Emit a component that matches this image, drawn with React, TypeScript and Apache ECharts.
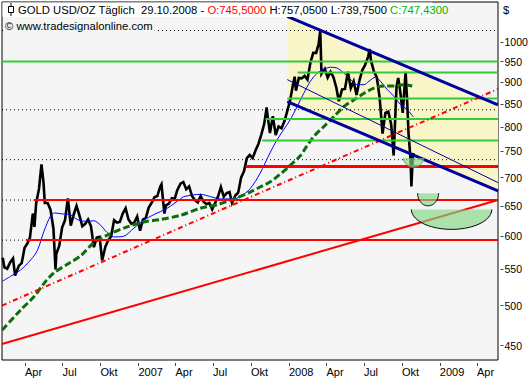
import React, { useEffect, useRef } from 'react';
import * as echarts from 'echarts';

const FONT = '"Liberation Sans", Arial, sans-serif';

// axis ranges (dates, prices)
const AXIS_START = '2006-02-04T06:00:00Z';
const AXIS_END = '2009-05-22T00:00:00Z';
const PRICE_MIN = 433.3;
const PRICE_MAX = 1111.3;

const yTicks = [450, 500, 550, 600, 650, 700, 750, 800, 850, 900, 950, 1000];
const xTicks = ['2006-04-01', '2006-07-01', '2006-10-01', '2007-01-01', '2007-04-01', '2007-07-01', '2007-10-01',
  '2008-01-01', '2008-04-01', '2008-07-01', '2008-10-01', '2009-01-01', '2009-04-01'];
const xTickLabels = ['Apr', 'Jul', 'Okt', '2007', 'Apr', 'Jul', 'Okt', '2008', 'Apr', 'Jul', 'Okt', '2009', 'Apr'];

// gold price (USD/oz)
const goldPrice: [string, number][] = [
  ['2006-02-06', 567], ['2006-02-10', 553], ['2006-02-17', 551], ['2006-02-24', 560], ['2006-03-03', 566], ['2006-03-08', 541],
  ['2006-03-17', 555], ['2006-03-24', 559], ['2006-03-31', 582], ['2006-04-07', 589], ['2006-04-13', 598], ['2006-04-20', 637],
  ['2006-04-24', 615], ['2006-04-28', 654], ['2006-05-05', 680], ['2006-05-11', 725], ['2006-05-16', 690], ['2006-05-19', 655],
  ['2006-05-26', 655], ['2006-06-02', 643], ['2006-06-09', 612], ['2006-06-14', 550], ['2006-06-16', 573], ['2006-06-23', 585],
  ['2006-06-30', 614], ['2006-07-07', 626], ['2006-07-14', 663], ['2006-07-21', 617], ['2006-07-28', 635], ['2006-08-04', 650],
  ['2006-08-11', 634], ['2006-08-18', 616], ['2006-08-25', 620], ['2006-09-01', 627], ['2006-09-08', 616], ['2006-09-15', 583],
  ['2006-09-22', 598], ['2006-09-29', 599], ['2006-10-05', 563], ['2006-10-13', 584], ['2006-10-20', 594], ['2006-10-27', 600],
  ['2006-11-03', 626], ['2006-11-10', 622], ['2006-11-17', 623], ['2006-11-24', 637], ['2006-12-01', 646], ['2006-12-08', 627],
  ['2006-12-15', 620], ['2006-12-22', 622], ['2006-12-29', 632],
  ['2007-01-05', 609], ['2007-01-12', 627], ['2007-01-19', 630], ['2007-01-26', 647], ['2007-02-02', 655], ['2007-02-09', 665],
  ['2007-02-16', 667], ['2007-02-23', 684], ['2007-02-26', 688], ['2007-03-05', 637], ['2007-03-09', 651], ['2007-03-16', 654],
  ['2007-03-23', 663], ['2007-03-30', 662], ['2007-04-05', 677], ['2007-04-13', 689], ['2007-04-20', 692], ['2007-04-27', 679],
  ['2007-05-04', 684], ['2007-05-11', 667], ['2007-05-18', 660], ['2007-05-25', 656], ['2007-06-01', 667], ['2007-06-08', 657],
  ['2007-06-15', 653], ['2007-06-22', 655], ['2007-06-29', 644], ['2007-07-06', 655], ['2007-07-13', 666], ['2007-07-20', 683],
  ['2007-07-27', 666], ['2007-08-03', 672], ['2007-08-10', 674], ['2007-08-16', 655], ['2007-08-24', 668], ['2007-08-31', 673],
  ['2007-09-07', 700], ['2007-09-14', 712], ['2007-09-21', 737], ['2007-09-28', 743], ['2007-10-05', 737], ['2007-10-12', 752],
  ['2007-10-19', 765], ['2007-10-26', 784], ['2007-11-02', 806], ['2007-11-08', 842], ['2007-11-09', 833], ['2007-11-16', 787],
  ['2007-11-23', 823], ['2007-11-30', 783], ['2007-12-07', 801], ['2007-12-14', 797], ['2007-12-21', 812], ['2007-12-28', 834],
  ['2008-01-04', 858], ['2008-01-11', 895], ['2008-01-15', 913], ['2008-01-18', 880], ['2008-01-25', 910], ['2008-02-01', 909],
  ['2008-02-08', 915], ['2008-02-15', 906], ['2008-02-22', 947], ['2008-02-29', 972], ['2008-03-07', 972], ['2008-03-13', 995],
  ['2008-03-17', 1030], ['2008-03-20', 920], ['2008-03-28', 932], ['2008-04-04', 911], ['2008-04-11', 925], ['2008-04-18', 912],
  ['2008-04-25', 887], ['2008-05-01', 856], ['2008-05-09', 883], ['2008-05-16', 884], ['2008-05-23', 925], ['2008-05-30', 886],
  ['2008-06-06', 902], ['2008-06-13', 870], ['2008-06-20', 904], ['2008-06-27', 929], ['2008-07-03', 940], ['2008-07-11', 962],
  ['2008-07-15', 982], ['2008-07-18', 953], ['2008-07-25', 926], ['2008-08-01', 912], ['2008-08-08', 864], ['2008-08-15', 786],
  ['2008-08-22', 830], ['2008-08-29', 833], ['2008-09-05', 805], ['2008-09-11', 742], ['2008-09-12', 762], ['2008-09-18', 890],
  ['2008-09-22', 910], ['2008-09-26', 885], ['2008-10-03', 830], ['2008-10-10', 925], ['2008-10-14', 850], ['2008-10-17', 787],
  ['2008-10-22', 733], ['2008-10-24', 684], ['2008-10-27', 735], ['2008-10-29', 747],
];

// short moving average (thin blue)
const maShort: [string, number][] = [
  ['2006-02-05', 533], ['2006-02-25', 540], ['2006-03-21', 549], ['2006-04-15', 564], ['2006-05-01', 578], ['2006-05-17', 608],
  ['2006-06-02', 633], ['2006-06-12', 638], ['2006-07-04', 636], ['2006-07-20', 635], ['2006-08-06', 627], ['2006-08-30', 624],
  ['2006-09-15', 625], ['2006-10-01', 618], ['2006-10-17', 606], ['2006-11-02', 599], ['2006-11-26', 600], ['2006-12-21', 613],
  ['2007-01-14', 626], ['2007-02-07', 635], ['2007-03-12', 646], ['2007-04-13', 662], ['2007-04-21', 666], ['2007-05-31', 670],
  ['2007-06-25', 666], ['2007-07-19', 662], ['2007-08-20', 662], ['2007-09-05', 666], ['2007-09-29', 680], ['2007-10-23', 708],
  ['2007-11-16', 747], ['2007-12-03', 773], ['2007-12-19', 794], ['2008-01-04', 815], ['2008-01-21', 844], ['2008-02-06', 874],
  ['2008-02-22', 902], ['2008-03-10', 922], ['2008-03-26', 931], ['2008-04-11', 936], ['2008-04-27', 934], ['2008-05-13', 922],
  ['2008-05-30', 906], ['2008-06-15', 894], ['2008-07-01', 894], ['2008-07-13', 902], ['2008-07-29', 912], ['2008-08-10', 902],
  ['2008-08-27', 882], ['2008-09-12', 867], ['2008-09-28', 848], ['2008-10-14', 837], ['2008-10-29', 821],
];

// long moving average (green dashed)
const maLong: [string, number][] = [
  ['2006-02-05', 469], ['2006-03-21', 494], ['2006-04-23', 512], ['2006-05-17', 530], ['2006-06-10', 545], ['2006-07-12', 557],
  ['2006-08-14', 570], ['2006-09-15', 590], ['2006-10-25', 604], ['2006-12-05', 615], ['2007-01-14', 623], ['2007-02-23', 627],
  ['2007-04-13', 634], ['2007-05-31', 646], ['2007-07-11', 652], ['2007-08-28', 664], ['2007-09-29', 674], ['2007-10-23', 683],
  ['2007-11-16', 692], ['2007-12-10', 706], ['2008-01-04', 723], ['2008-01-28', 741], ['2008-02-13', 760], ['2008-03-01', 780],
  ['2008-03-26', 801], ['2008-04-19', 822], ['2008-05-13', 844], ['2008-06-06', 859], ['2008-07-01', 874], ['2008-07-25', 886],
  ['2008-08-18', 891], ['2008-09-12', 891], ['2008-10-05', 894], ['2008-10-26', 891],
];

// horizontal levels
const greenLevels = [950, 923, 862, 817, 772];
const greenStarts = [AXIS_START, '2008-01-22', '2007-12-28', '2007-11-05', '2007-10-28'];
const redLevels = [721, 660, 594];
const redStarts = ['2007-09-18', '2006-04-22', '2006-04-03'];
const redWidths = [3, 2, 2];
const dottedLevels = [1031, 837, 734, 660, 594];

// trend lines [start, end] prices at AXIS_START / AXIS_END
const supportLine = [452, 660];
const dashDotLine = [500, 884];

// falling channel
const channelStart = '2007-12-28';
const channelUpper = [1070, 848];
const channelLower = [855, 676];
const channelMid = [906, 691];

// bowls
const bowlStarts = ['2008-10-05', '2008-11-08', '2008-10-24'];
const bowlEnds = ['2008-11-23', '2008-12-29', '2009-05-07'];
const bowlTops = [737, 672, 644];
const bowlBottoms = [720, 650, 611];
const bowlStrokes = ['#6a9a6a', '#000000', '#000000'];

const T = (s: string) => Date.parse(s.length === 10 ? s + 'T00:00:00Z' : s);
const L = Math.log;

function hLine(level: number, start: string, color: string, width: number, type: any, z: number) {
  return {
    type: 'line', silent: true, symbol: 'none', z,
    data: [[T(start), L(level)], [T(AXIS_END), L(level)]],
    lineStyle: { color, width, type },
  };
}

function twoPoint(start: string, vals: number[], color: string, width: number, type: any, z: number) {
  return {
    type: 'line', silent: true, symbol: 'none', z,
    data: [[T(start), L(vals[0])], [T(AXIS_END), L(vals[1])]],
    lineStyle: { color, width, type },
  };
}

export default function App() {
  const ref = useRef<HTMLDivElement>(null);
  useEffect(() => {
    if (!ref.current) return;
    const chart = echarts.init(ref.current, undefined, { renderer: 'svg' });
    const xTickTimes = xTicks.map(T);
    const yTickLn = yTicks.map(L);
    const TF = '11.25px ' + FONT;

    const series: any[] = [];
    series.push({
      type: 'custom', silent: true, z: 1, coordinateSystem: 'cartesian2d',
      data: [[T(channelStart), L(channelUpper[0])]],
      renderItem: (_p: any, api: any) => {
        const a = api.coord([T(channelStart), L(channelUpper[0])]);
        const b = api.coord([T(AXIS_END), L(channelUpper[1])]);
        const c = api.coord([T(AXIS_END), L(channelLower[1])]);
        const d = api.coord([T(channelStart), L(channelLower[0])]);
        return { type: 'polygon', shape: { points: [a, b, c, d] }, style: { fill: '#f8f5c8' } };
      },
    });
    dottedLevels.forEach((lv) => series.push(hLine(lv, AXIS_START, '#000', 1, [1, 3], 2)));
    series.push({
      type: 'line', silent: true, symbol: 'none', z: 3,
      data: goldPrice.map(([d, v]) => [T(d), L(v)]),
      lineStyle: { color: '#000', width: 2.6, join: 'miter' },
    });
    series.push({
      type: 'line', silent: true, symbol: 'none', z: 4, smooth: 0.3,
      data: maShort.map(([d, v]) => [T(d), L(v)]),
      lineStyle: { color: '#0000ff', width: 1 },
    });
    series.push({
      type: 'line', silent: true, symbol: 'none', z: 4, smooth: 0.3,
      data: maLong.map(([d, v]) => [T(d), L(v)]),
      lineStyle: { color: '#0b6e0b', width: 3, type: [7, 3] },
    });
    greenLevels.forEach((lv, i) => series.push(hLine(lv, greenStarts[i], '#33cc33', 2, 'solid', 5)));
    redLevels.forEach((lv, i) => series.push(hLine(lv, redStarts[i], '#ff0000', redWidths[i], 'solid', 5)));
    series.push(twoPoint(AXIS_START, supportLine, '#ff0000', 2, 'solid', 5));
    series.push(twoPoint(AXIS_START, dashDotLine, '#ff0000', 2, [5, 3, 1, 3], 6));
    series.push(twoPoint(channelStart, channelUpper, '#00009c', 3, 'solid', 6));
    series.push(twoPoint(channelStart, channelLower, '#00009c', 3, 'solid', 6));
    series.push(twoPoint(channelStart, channelMid, '#0000a0', 1, 'solid', 6));
    series.push({
      type: 'custom', silent: true, z: 7, coordinateSystem: 'cartesian2d',
      data: bowlStarts.map((s, i) => [T(s), L(bowlTops[i])]),
      renderItem: (p: any, api: any) => {
        const i = p.dataIndex;
        const left = api.coord([T(bowlStarts[i]), L(bowlTops[i])]);
        const right = api.coord([T(bowlEnds[i]), L(bowlTops[i])]);
        const bottom = api.coord([T(bowlStarts[i]), L(bowlBottoms[i])]);
        const cx = (left[0] + right[0]) / 2;
        const rx = (right[0] - left[0]) / 2;
        const ry = bottom[1] - left[1];
        const pts: number[][] = [];
        for (let k = 0; k <= 48; k++) {
          const a = (Math.PI * k) / 48;
          pts.push([cx - rx * Math.cos(a), left[1] + ry * Math.sin(a)]);
        }
        return {
          type: 'group',
          children: [
            { type: 'polygon', shape: { points: pts }, style: { fill: 'rgba(130,215,130,0.65)' } },
            { type: 'polyline', shape: { points: pts }, style: { stroke: bowlStrokes[i], lineWidth: 1, fill: 'none' } },
          ],
        };
      },
    });

    const option: any = {
      animation: false,
      backgroundColor: '#ffffff',
      textStyle: { fontFamily: FONT },
      grid: {
        left: 2, top: 2, right: 34, bottom: 20, show: true,
        backgroundColor: '#f5f5f5', borderColor: '#000', borderWidth: 1,
      },
      xAxis: {
        type: 'value', min: T(AXIS_START), max: T(AXIS_END), offset: 3,
        axisLine: { show: false },
        axisTick: { show: true, length: 3, lineStyle: { color: '#444' }, customValues: xTickTimes },
        axisLabel: {
          customValues: xTickTimes, align: 'left', margin: 3, color: '#000', fontSize: 11, fontFamily: FONT,
          formatter: (v: number) => {
            let best = 0;
            xTickTimes.forEach((t, i) => { if (Math.abs(t - v) < Math.abs(xTickTimes[best] - v)) best = i; });
            return xTickLabels[best];
          },
        },
        splitLine: { show: false },
      },
      yAxis: {
        type: 'value', position: 'right', min: L(PRICE_MIN), max: L(PRICE_MAX), offset: 2.5,
        axisLine: { show: false },
        axisTick: { show: true, length: 3, lineStyle: { color: '#444' }, customValues: yTickLn },
        axisLabel: {
          customValues: yTickLn, margin: 4, color: '#000', fontSize: 10.5, fontFamily: FONT,
          formatter: (v: number) => String(Math.round(Math.exp(v))),
        },
        splitLine: { show: false },
      },
      graphic: [
        { type: 'rect', z: 100, silent: true, shape: { x: 2.5, y: 2.5, width: 430, height: 14.5 }, style: { fill: '#ffffff' } },
        { type: 'line', z: 101, silent: true, shape: { x1: 11, y1: 3, x2: 11, y2: 16 }, style: { stroke: '#000', lineWidth: 1 } },
        { type: 'rect', z: 102, silent: true, shape: { x: 8.5, y: 6.5, width: 5, height: 6 }, style: { fill: '#fff', stroke: '#000', lineWidth: 1 } },
        {
          type: 'text', z: 101, silent: true, x: 18, y: 10,
          style: {
            text: '{k|GOLD USD/OZ Täglich \u00a029.10.2008 - }{r|O:745,5000}{k| H:757,0500 L:739,7500 }{g|C:747,4300}',
            font: TF, verticalAlign: 'middle', align: 'left',
            rich: {
              k: { fill: '#000', font: TF },
              r: { fill: '#ff0000', font: TF },
              g: { fill: '#00b400', font: TF },
            },
          },
        },
        {
          type: 'text', z: 101, silent: true, x: 4, y: 25.5,
          style: {
            text: '© www.tradesignalonline.com', font: TF, fill: '#000',
            verticalAlign: 'middle', align: 'left', backgroundColor: '#f5f5f5', padding: [1, 2, 1, 1],
          },
        },
        {
          type: 'text', z: 101, silent: true, x: 503, y: 10,
          style: { text: '$', font: TF, fill: '#000', verticalAlign: 'middle', align: 'left' },
        },
      ],
      series,
    };
    chart.setOption(option);
    return () => chart.dispose();
  }, []);
  return <div ref={ref} style={{ position: 'absolute', left: 0, top: 0, width: 532, height: 380 }} />;
}
